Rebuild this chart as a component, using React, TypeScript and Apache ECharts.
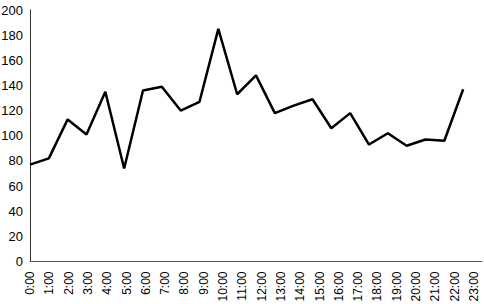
import React, { useEffect, useRef } from "react";
import * as echarts from "echarts";

const hours: string[] = [
  "0:00", "1:00", "2:00", "3:00", "4:00", "5:00", "6:00", "7:00", "8:00", "9:00", "10:00", "11:00",
  "12:00", "13:00", "14:00", "15:00", "16:00", "17:00", "18:00", "19:00", "20:00", "21:00", "22:00", "23:00",
];
const values: number[] = [
  77, 82, 113, 101, 135, 74, 136, 139, 120, 127, 185, 133,
  148, 118, 124, 129, 106, 118, 93, 102, 92, 97, 96, 137,
];
const yTicks = { min: 0, max: 200, interval: 20 };

const FONT = "'Liberation Sans Narrow', 'Liberation Sans', Arial, sans-serif";

export default function App() {
  const ref = useRef<HTMLDivElement>(null);
  useEffect(() => {
    if (!ref.current) return;
    const chart = echarts.init(ref.current, undefined, { renderer: "svg" });
    const dataCats = [...hours, ""];
    chart.setOption({
      animation: false,
      backgroundColor: "#ffffff",
      grid: [
        { left: 30, right: 2, top: 10, bottom: 42.5, containLabel: false, outerBoundsMode: "none" },
        { left: 30, right: 10, top: 10, bottom: 42.5, containLabel: false, outerBoundsMode: "none" },
      ],
      xAxis: [
        {
          type: "category",
          gridIndex: 0,
          data: dataCats,
          boundaryGap: false,
          axisLine: { show: true, lineStyle: { color: "#555", width: 1 } },
          axisTick: { show: false },
          axisLabel: { show: false },
          splitLine: { show: false },
        },
        {
          type: "category",
          gridIndex: 1,
          data: hours,
          boundaryGap: false,
          axisLine: { show: false },
          axisTick: { show: false },
          axisLabel: {
            show: true,
            rotate: 90,
            interval: 0,
            margin: 10,
            color: "#000",
            fontSize: 12,
            fontFamily: FONT,
          },
          splitLine: { show: false },
        },
      ],
      yAxis: [
        {
          type: "value",
          gridIndex: 0,
          min: yTicks.min,
          max: yTicks.max,
          interval: yTicks.interval,
          axisLine: { show: true, lineStyle: { color: "#333", width: 1 } },
          axisTick: { show: false },
          splitLine: { show: false },
          axisLabel: {
            color: "#000",
            fontSize: 13,
            fontFamily: FONT,
            margin: 7,
          },
        },
        {
          type: "value",
          gridIndex: 1,
          min: yTicks.min,
          max: yTicks.max,
          show: false,
        },
      ],
      series: [
        {
          type: "line",
          xAxisIndex: 0,
          yAxisIndex: 0,
          data: values,
          symbol: "none",
          lineStyle: { color: "#000", width: 2.5 },
          itemStyle: { color: "#000" },
        },
      ],
    });
    return () => chart.dispose();
  }, []);
  return (
    <div
      ref={ref}
      style={{ position: "fixed", left: 0, top: 0, width: 484, height: 304 }}
    />
  );
}
